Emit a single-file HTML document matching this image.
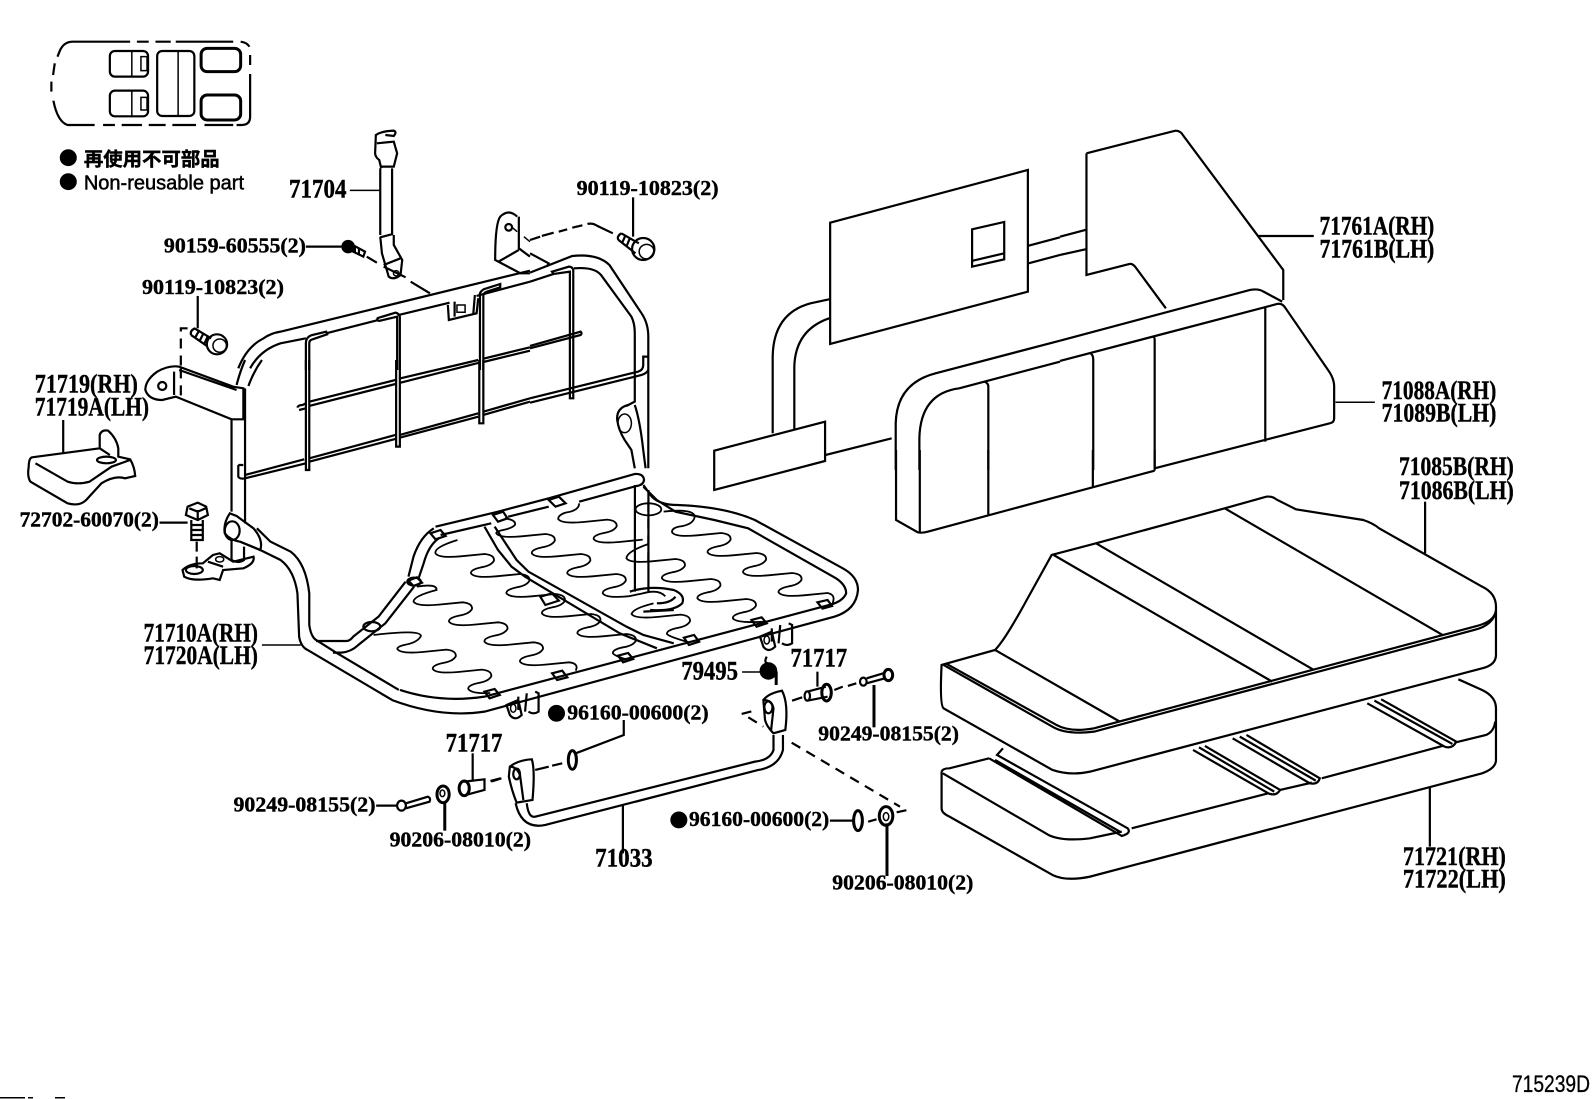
<!DOCTYPE html>
<html><head><meta charset="utf-8"><style>
html,body{margin:0;padding:0;background:#fff}
svg{display:block}
path,ellipse,rect,circle{vector-effect:non-scaling-stroke;fill:none;stroke:#000;stroke-width:1.5}
.f{fill:#000}
.t{stroke-width:2.2}
.sp{stroke-width:1.8}
.d{stroke-dasharray:10 7}
text{font-family:"Liberation Serif","Noto Sans CJK JP",serif;font-weight:bold;fill:#000;stroke:#000;stroke-width:1.2}
.s{font-size:62px}.b{font-size:80px}
</style></head><body>
<svg width="1592" height="1099" viewBox="0 0 1592 1099" xmlns="http://www.w3.org/2000/svg">
<!-- zone 1 -->
<g transform="translate(0,0) scale(.338,.3333)">
<path d="M385 125H215Q190 125 178 150L170 170M162 190L157 225M152 245V275M158 302Q170 365 200 375H280M305 375H340M360 375H420M440 375H490M510 375H580M605 375H690M405 125H440M460 125H505M520 125H690M712 125Q730 127 738 140M740 165V195M740 222V350Q740 375 715 375H700" class="t"/>
<rect x="325" y="153" width="113" height="77" rx="15" class="t"/><path d="M390 153V230"/><rect x="417" y="170" width="18" height="42"/>
<rect x="325" y="272" width="113" height="77" rx="15" class="t"/><path d="M390 272V349"/><rect x="417" y="292" width="18" height="38"/>
<rect x="465" y="153" width="110" height="195" rx="15" class="t"/><path d="M527 153V348"/>
<rect x="595" y="145" width="117" height="70" rx="18" style="stroke-width:3"/>
<rect x="595" y="285" width="117" height="75" rx="18" style="stroke-width:3"/>
<ellipse cx="202" cy="473" rx="23" ry="23" class="f"/><ellipse cx="202" cy="545" rx="23" ry="23" class="f"/>
<text x="248" y="497" font-size="57" textLength="402" lengthAdjust="spacingAndGlyphs" style="font-family:'Noto Sans CJK JP',sans-serif">再使用不可部品</text>
<text x="248" y="568" font-size="60" textLength="474" lengthAdjust="spacingAndGlyphs" style="font-family:'Liberation Sans',sans-serif;font-weight:normal;stroke-width:1.5">Non-reusable part</text>
<text x="855" y="593" class="b" textLength="170" lengthAdjust="spacingAndGlyphs">71704</text>
<path d="M1035 571H1125"/>
<path d="M1125 705V505M1160 705V505M1128 505L1122 480Q1108 470 1110 455L1112 405Q1130 393 1165 392Q1175 395 1165 408L1140 405M1115 430L1165 425L1175 460L1165 500H1128M1125 710L1130 760L1150 830Q1165 842 1185 825L1190 780L1165 735V705M1125 712L1163 702M1135 795L1185 775" class="t"/>
<ellipse cx="1172" cy="820" rx="8" ry="8"/>
<text x="485" y="758" class="s" textLength="420" lengthAdjust="spacingAndGlyphs">90159-60555(2)</text>
<path d="M905 740H1010" class="t"/>
<ellipse cx="1030" cy="740" rx="18" ry="18" class="f"/><path d="M1040 733L1080 755L1075 770L1035 750M1050 738V755M1062 745V762" class="t"/>
<path d="M1085 770L1115 788M1135 800L1200 832M1215 845L1272 880" class="t"/>
<text x="420" y="882" class="s" textLength="420" lengthAdjust="spacingAndGlyphs">90119-10823(2)</text>
<path d="M585 888V985" class="t"/>
<path d="M575 985L625 1015M565 1005L612 1038M578 985Q562 990 565 1005M590 990L578 1012M603 998L592 1020M616 1006L605 1030" class="t"/>
<ellipse cx="642" cy="1033" rx="30" ry="30" class="t"/><ellipse cx="650" cy="1037" rx="20" ry="20"/>
<path d="M555 985H535V1110" class="t d"/>
<path d="M705 1105Q730 1040 780 1015Q800 1000 830 995L1568 812M740 1105Q770 1050 830 1030L905 1015M965 1000L1120 960M1180 945L1330 908M1410 888L1568 845" class="t"/>
<path d="M905 1110V1030Q905 1010 925 1005L965 995L968 1003L925 1018Q915 1020 915 1030V1110" class="t"/>
<path d="M1115 955L1170 938Q1180 940 1183 950V1110M1115 955Q1118 965 1125 962L1175 950V1110" class="t"/>
<path d="M1420 1110V880Q1425 868 1440 865L1480 852V862L1440 875Q1430 878 1430 890V1110" class="t"/>
<path d="M1325 915L1328 960L1410 940L1415 895M1345 905V950M1405 885L1400 945" class="t"/><rect x="1352" y="915" width="24" height="22"/>
<path d="M1530 650Q1505 625 1480 650Q1465 670 1465 780L1540 820H1568M1475 785L1535 750M1535 650V745L1568 770" class="t"/>
<ellipse cx="1505" cy="682" rx="10" ry="10" class="t"/><path d="M1515 682L1530 695M1550 710L1568 725"/>
</g>
<!-- zone 2 -->
<g transform="translate(530,100) scale(.338,.3333)">
<path d="M0 420L30 410M35 408L70 398M85 395L110 388M125 383L155 376M170 372Q185 368 200 378L245 400" class="t"/>
<text x="138" y="285" class="s" textLength="420" lengthAdjust="spacingAndGlyphs">90119-10823(2)</text>
<path d="M305 292V410" class="t"/>
<path d="M270 400L322 430M262 420L312 460M270 400Q255 410 262 420M283 405L272 430M296 413L286 438" class="t"/>
<ellipse cx="335" cy="447" rx="33" ry="33" class="t"/><ellipse cx="345" cy="455" rx="22" ry="22"/>
<path d="M0 460L55 490L50 500M0 518L125 468Q200 460 235 495L330 640Q350 670 350 710V1105M0 545L70 522M130 505Q190 500 210 525L300 650Q310 670 310 700V905L285 918" class="t"/>
<path d="M65 515L115 500Q125 500 128 510V895H118V515L70 522Z" class="t"/>
<path d="M0 738L150 695Q155 700 150 705L0 745M0 895L320 815Q335 810 335 795V770H348M0 908L330 825Q345 820 350 810" class="t"/>
<path d="M888 368L1473 210V575L888 732Z M1308 388L1403 366V478L1308 500Z M1310 482L1403 460" class="t"/>
<path d="M1475 437L1568 412M1475 490L1568 465M885 598L830 610Q720 640 718 770V1000M885 655Q785 690 782 800V990" class="t"/>
<path d="M545 1052L873 965V1083L545 1170Z M875 1065L1070 1015" class="t"/>
<path d="M1082 1110V970Q1085 850 1200 820L1568 722M1152 1110V1015Q1155 880 1270 865L1568 785M1345 845Q1356 850 1356 860V1110" class="t"/>
<path d="M290 915Q255 925 258 960Q262 990 280 1020L300 1050L310 1105M310 915Q325 960 335 1050L342 1105" class="t"/><ellipse cx="280" cy="970" rx="20" ry="28"/>
</g>
<!-- zone 3 -->
<g transform="translate(1060,100) scale(.3393,.3333)">
<path d="M0 410L75 390M0 465L75 448M78 160L340 92Q355 92 362 105L658 510V600M78 160V525L205 492Q215 490 225 505L312 625" class="t"/>
<path d="M0 722L560 570Q585 565 600 575L655 605M0 783L640 612Q655 608 665 625L790 810Q808 835 808 860V955Q808 968 795 970L279 1105M90 760Q98 765 98 780V1110M275 710Q279 712 279 720V1105M605 620V1025" class="t"/>
<path d="M585 408H748" class="t"/><path d="M812 907H928"/>
<text x="765" y="403" class="b" textLength="338" lengthAdjust="spacingAndGlyphs">71761A(RH)</text>
<text x="765" y="472" class="b" textLength="338" lengthAdjust="spacingAndGlyphs">71761B(LH)</text>
<text x="948" y="897" class="b" textLength="338" lengthAdjust="spacingAndGlyphs">71088A(RH)</text>
<text x="948" y="965" class="b" textLength="338" lengthAdjust="spacingAndGlyphs">71089B(LH)</text>
</g>
<!-- zone 4 -->
<g transform="translate(0,360) scale(.338,.3333)">
<text x="103" y="97" class="b" textLength="305" lengthAdjust="spacingAndGlyphs">71719(RH)</text>
<text x="103" y="167" class="b" textLength="338" lengthAdjust="spacingAndGlyphs">71719A(LH)</text>
<path d="M187 180V280" class="t"/>
<path d="M95 292L295 265V225Q300 208 320 212Q345 235 350 265V290L385 298Q398 320 400 348L370 355Q340 345 300 370L255 420Q235 440 200 430L90 365Q80 350 85 320Q85 295 95 292ZM105 310L200 365Q230 375 265 365L330 320L385 300M295 265L325 285" class="t"/>
<ellipse cx="315" cy="300" rx="28" ry="10" class="t"/>
<path d="M690 80L530 20Q500 15 465 35Q430 60 430 90Q440 120 480 120L520 110L685 178H720V85ZM530 30L700 90M515 35V105" class="t"/>
<ellipse cx="480" cy="78" rx="12" ry="12" class="t"/><path d="M535 25V110" class="d t"/>
<path d="M725 85V490M685 180V455M700 75Q710 35 725 0M735 78Q750 35 775 0" class="t"/>
<path d="M705 315H720M705 315V350Q710 358 725 355L905 310M725 345L900 298M915 295L1170 225M915 305L1170 237M1183 225L1415 160M1183 233L1415 170M1430 155L1568 115M1430 165L1568 125M880 143Q882 135 895 135L905 130M885 150L905 145M915 125L1170 60M915 138L1170 72M1185 55L1415 0M1185 68L1418 8M1430 -4L1568 -38M1430 6L1568 -28" class="t"/>
<path d="M905 0V330H915V0M1172 0V260H1183V0M1418 0V190H1430V0" class="t"/>
<path d="M680 460Q660 490 665 520Q680 540 710 545L770 570Q780 540 750 505L700 468Z" class="t"/><ellipse cx="687" cy="512" rx="22" ry="28" class="t"/>
<path d="M685 540V600M722 560V600Q705 612 685 600" class="t"/>
<path d="M540 630Q560 610 600 610L630 585L650 580L690 605L750 590Q755 610 720 625L660 630L650 660L630 655Q570 665 545 650ZM615 605L660 620" class="t"/><ellipse cx="575" cy="630" rx="25" ry="12" class="t"/><ellipse cx="650" cy="598" rx="12" ry="8"/>
<path d="M555 440L585 428L610 440L615 465L585 480L550 465ZM585 450V480M560 445L585 455L608 445" class="t"/>
<path d="M566 480V540H600V480M566 495H600M566 510H600M566 525H600" class="t"/><path d="M582 545V575M582 590V625" class="t"/>
<text x="58" y="500" class="s" textLength="412" lengthAdjust="spacingAndGlyphs">72702-60070(2)</text>
<path d="M472 488H555" class="t"/>
<text x="425" y="845" class="b" textLength="338" lengthAdjust="spacingAndGlyphs">71710A(RH)</text>
<text x="425" y="912" class="b" textLength="338" lengthAdjust="spacingAndGlyphs">71720A(LH)</text>
<path d="M775 855H890"/>
<path d="M760 505L800 545L860 575Q905 610 915 700V795Q920 830 935 840L990 875L1180 990M710 545L770 570L830 600Q870 630 880 700L885 830Q890 860 910 870L1160 1020" class="t"/>
<path d="M935 843H1025Q1035 843 1045 830L1120 770L1200 665M985 878H1010Q1040 875 1060 855L1140 790L1225 680" class="t"/>
<ellipse cx="1100" cy="800" rx="25" ry="14" class="t"/><ellipse cx="1225" cy="665" rx="20" ry="12" class="t"/>
</g>
<!-- zone 5 -->
<g transform="translate(400,470) scale(.338,.3333)">
<path d="M105 170L290 125L440 85L695 12Q720 10 722 30Q720 45 700 48L530 95M320 140L440 110M120 195L270 160" class="t"/>
<path d="M100 175Q60 200 40 260L25 320M115 205Q85 225 70 280L55 325" class="t"/>
<path d="M250 170L290 240L330 290L370 320L650 490L760 535M280 170L345 270L380 305L670 470L720 495L810 520" class="t"/>
<path d="M720 45L745 80Q770 105 820 105Q960 110 1050 150L1310 295Q1355 320 1355 360Q1350 420 1285 440L250 725Q120 745 -24 690M720 50L760 90L815 125L930 150L1030 175L1290 325Q1320 345 1320 370Q1310 395 1270 405L250 680Q120 700 0 660" class="t"/>
<path d="M695 45V365M735 60V365" class="t"/><path d="M735 95V290" class="d t"/>
<path d="M680 365Q740 345 810 360Q845 375 835 400Q810 425 740 420M760 400Q800 400 815 380M720 425L810 420" class="t"/>
<ellipse cx="735" cy="118" rx="38" ry="18" class="sp"/>
<path class="sp" d="M780 125Q870 115 872 140Q868 165 825 170Q803 175 805 187q10 15 75 9l70 -7q30 3 28 20q-8 15 -38 20q-32 7 -30 18q10 15 75 9l70 -7q30 3 28 20q-8 15 -38 20q-32 7 -30 18q10 15 75 9l70 -7q30 3 28 20q-8 15 -38 20q-32 7 -30 18q10 15 75 9l70 -7q25 5 15 30"/>
<path class="sp" d="M530 100Q530 122 490 128Q468 135 468 147q10 15 75 9l70 -7q30 3 28 20q-8 15 -38 20q-32 7 -30 18q10 15 75 9l70 -7"/>
<path class="sp" d="M735 222Q670 245 670 265q10 15 75 9l70 -7q30 3 28 20q-8 15 -38 20q-32 7 -30 18q10 15 75 9l70 -7q30 3 28 20q-8 15 -38 20q-32 7 -30 18q10 15 75 9l70 -7q30 3 28 20q-8 15 -38 20q-32 7 -30 18q10 15 95 10"/>
<path class="sp" d="M310 145Q345 150 340 165Q330 175 305 180Q283 185 285 190q10 15 75 9l70 -7q30 3 28 20q-8 15 -38 20q-32 7 -30 18q10 15 75 9l70 -7q30 3 28 20q-8 15 -38 20q-32 7 -30 18q10 15 75 9l70 -7q30 3 28 20q-8 15 -38 20q-32 7 -30 18q10 15 75 9l40 -8q50 -15 70 8"/>
<path class="sp" d="M750 400Q690 415 685 432q10 15 75 9l70 -7q30 3 28 20q-8 15 -38 20q-32 7 -30 18q5 8 65 25"/>
<path class="sp" d="M170 210Q100 232 105 250q10 15 75 9l70 -7q30 3 28 20q-8 15 -38 20q-32 7 -30 18q10 15 75 9l70 -7q30 3 28 20q-8 15 -38 20q-32 7 -30 18q10 15 75 9l70 -7q30 3 28 20q-8 15 -38 20q-32 7 -30 18q10 15 75 9l70 -7q30 3 28 20q-8 15 -38 20q-32 7 -30 18q10 15 75 9l70 -7q30 3 28 20q-8 15 -38 20q-32 7 -30 18q5 8 40 18"/>
<path class="sp" d="M50 350Q110 340 108 360Q40 378 40 395q10 15 75 9l70 -7q30 3 28 20q-8 15 -38 20q-32 7 -30 18q10 15 75 9l70 -7q30 3 28 20q-8 15 -38 20q-32 7 -30 18q10 15 75 9l70 -7q30 3 28 20q-8 15 -38 20q-32 7 -30 18q10 15 75 9l70 -7q30 3 20 25"/>
<path class="sp" d="M-78 495Q60 478 62 498Q52 518 12 525Q-8 530 -8 537q10 15 75 9l70 -7q30 3 28 20q-8 15 -38 20q-32 7 -30 18q10 15 75 9l70 -7q30 3 28 20q-8 15 -38 20q-32 7 -30 18q10 15 65 12"/>
<path d="M250 665L280 657L295 675L265 685ZM450 610L480 602L495 622L465 630ZM645 557L675 549L690 567L660 577ZM840 503L870 495L885 515L855 525ZM1040 450L1070 442L1085 460L1055 470ZM1235 397L1265 390L1278 408L1250 416ZM90 190L120 180L135 198L105 208ZM275 135L305 125L318 145L290 155ZM440 90L470 80L490 100L460 110ZM25 332L50 322L65 338L40 348ZM415 380L450 370L470 392L430 405Z" class="t"/>
<path d="M315 705L350 690L360 735Q340 755 325 735ZM350 680V720M375 670L370 725M400 665L410 670V725Q395 735 380 725" class="t"/><ellipse cx="335" cy="715" rx="8" ry="12"/>
<path d="M1065 500L1100 485L1110 530Q1090 550 1075 530ZM1100 475V515M1125 465L1120 520M1150 460L1160 465V520Q1145 530 1130 520" class="t"/><ellipse cx="1085" cy="510" rx="8" ry="12"/>
<text x="832" y="628" class="b" textLength="168" lengthAdjust="spacingAndGlyphs">79495</text>
<path d="M1012 606H1068"/>
<ellipse cx="1090" cy="603" rx="24" ry="24" class="f"/><path d="M1085 560Q1075 580 1090 580" class="t"/><path d="M1113 605V645" style="stroke-width:3"/>
<text x="1155" y="590" class="b" textLength="168" lengthAdjust="spacingAndGlyphs">71717</text>
<path d="M1235 605V650" class="t"/>
<path d="M1205 665L1260 650M1205 692L1265 680" class="t"/><ellipse cx="1262" cy="668" rx="14" ry="25" style="stroke-width:3"/><ellipse cx="1205" cy="678" rx="8" ry="14" class="t"/>
<path d="M1160 692L1190 682M1285 660L1310 650M1325 648L1350 640" class="t"/>
<path d="M1075 690Q1090 670 1130 662Q1150 700 1140 780L1105 790Q1085 770 1080 750ZM1075 690Q1100 690 1105 715L1098 780" class="t"/><ellipse cx="1090" cy="712" rx="12" ry="18" class="t"/>
<path d="M1105 795V840Q1095 870 1050 875L400 1040Q380 1045 375 1000M1133 795V840Q1120 890 1060 900L430 1065Q360 1080 342 1000" class="t"/>
<path d="M325 890Q350 870 390 868Q400 900 392 990L345 998Q330 960 322 920ZM325 890Q345 890 355 915L365 990" class="t"/><ellipse cx="345" cy="912" rx="10" ry="16" class="t"/>
<path d="M400 900L440 890M450 887L480 880M270 935L300 925" class="t"/>
<ellipse cx="510" cy="870" rx="12" ry="28" style="stroke-width:3"/>
<path d="M520 850L662 795V750" class="t"/>
<ellipse cx="463" cy="730" rx="23" ry="23" class="f"/>
<text x="495" y="748" class="s" textLength="418" lengthAdjust="spacingAndGlyphs">96160-00600(2)</text>
<text x="135" y="845" class="b" textLength="168" lengthAdjust="spacingAndGlyphs">71717</text>
<path d="M215 850V930" class="t"/>
<ellipse cx="190" cy="955" rx="15" ry="22" style="stroke-width:3"/><path d="M190 935L250 928V960L195 975" class="t"/>
<ellipse cx="825" cy="1050" rx="23" ry="23" class="f"/>
<text x="855" y="1068" class="s" textLength="415" lengthAdjust="spacingAndGlyphs">96160-00600(2)</text>
<path d="M1272 1052H1340" class="t"/>
<ellipse cx="1355" cy="1052" rx="13" ry="30" style="stroke-width:3"/>
<path d="M1385 1055L1410 1048" class="t"/>
<ellipse cx="1438" cy="1038" rx="20" ry="28" style="stroke-width:3"/><ellipse cx="1438" cy="1040" rx="8" ry="12"/>
</g>
<!-- zone 6 -->
<g transform="translate(900,450) scale(.396,.3333)">
<path d="M50 0V245M223 0V195M487 0V110M643 0V62M-10 0V210L45 247Q55 250 70 245L643 62" class="t"/>
<path d="M105 645L240 600Q265 570 320 450L383 315L495 280L820 175L925 140Q940 138 950 148L1000 178L1170 210Q1195 220 1210 235L1470 410Q1505 430 1505 470V615Q1505 645 1470 655L480 965Q430 978 385 960L110 775Q100 765 105 645Z" class="t"/>
<path d="M110 645L385 830Q420 855 490 845L1450 540Q1500 525 1505 480M115 640L395 825Q430 848 490 835L1450 530Q1495 518 1503 490M240 600L555 815M388 315L940 695M495 280L1045 660M820 175L1370 555" class="t"/>
<path d="M1326 155V310" class="t"/>
<text x="1260" y="75" class="b" textLength="290" lengthAdjust="spacingAndGlyphs">71085B(RH)</text>
<text x="1260" y="147" class="b" textLength="290" lengthAdjust="spacingAndGlyphs">71086B(LH)</text>
<text x="1270" y="1245" class="b" textLength="260" lengthAdjust="spacingAndGlyphs">71721(RH)</text>
<text x="1270" y="1312" class="b" textLength="260" lengthAdjust="spacingAndGlyphs">71722(LH)</text>
<path d="M1338 1012V1190" class="t"/>
<path d="M105 965Q108 955 125 955L225 925M105 965V1075Q105 1090 125 1100L385 1275Q420 1295 480 1280L1470 970Q1505 955 1505 930V775Q1505 740 1470 720L1410 688M108 970L375 1155Q410 1175 480 1165L560 1145M585 1135L930 1030M960 1020L1040 998M1065 985L1370 888M1400 878L1480 855Q1500 845 1503 815" class="t"/>
<path d="M260 895L245 915L575 1135Q585 1150 560 1158L225 925M240 930L555 1145M740 900L930 1030Q950 1040 960 1020L770 888M755 892L945 1025M840 865L1035 1000Q1055 1005 1060 985L875 855M858 860L1050 992M1180 760L1375 890Q1395 898 1405 875L1215 748M1198 752L1395 882" class="t"/>
</g>
<!-- zone 7 -->
<g transform="translate(220,640) scale(.338,.3333)">
<text x="40" y="515" class="s" textLength="420" lengthAdjust="spacingAndGlyphs">90249-08155(2)</text>
<path d="M462 497H522" class="t"/>
<ellipse cx="537" cy="497" rx="13" ry="15" class="t"/><path d="M550 490L615 470Q625 475 620 485L550 505" class="t"/>
<ellipse cx="660" cy="463" rx="18" ry="25" style="stroke-width:3"/><ellipse cx="658" cy="460" rx="7" ry="10"/>
<path d="M665 485V572" style="stroke-width:3"/>
<text x="502" y="620" class="s" textLength="418" lengthAdjust="spacingAndGlyphs">90206-08010(2)</text>
<text x="1110" y="680" class="b" textLength="170" lengthAdjust="spacingAndGlyphs">71033</text>
<path d="M1192 497V640" class="t"/>
<path d="M800 423L830 415" class="t"/>
</g>
<!-- zone 8 -->
<g transform="translate(700,620) scale(.3333,.3333)">
<text x="355" y="362" class="s" textLength="422" lengthAdjust="spacingAndGlyphs">90249-08155(2)</text>
<path d="M522 195V322" style="stroke-width:3"/>
<ellipse cx="490" cy="185" rx="10" ry="12" class="t"/><path d="M500 175L550 160M500 190L555 175" class="t"/><ellipse cx="565" cy="165" rx="13" ry="17" style="stroke-width:3"/>
<path d="M561 610V768" style="stroke-width:3"/>
<text x="397" y="808" class="s" textLength="423" lengthAdjust="spacingAndGlyphs">90206-08010(2)</text>
<path d="M125 282L170 270M145 292L190 320M275 368L600 560M590 577L622 570" class="t d"/>
</g>
<text x="1512" y="1092" font-size="24" textLength="78" lengthAdjust="spacingAndGlyphs" style="font-family:'Liberation Sans',sans-serif;font-weight:normal;stroke-width:.3">715239D</text>
<rect x="0" y="1097" width="25" height="1.5" class="f" style="stroke:none"/><rect x="28" y="1097" width="5" height="1.5" class="f" style="stroke:none"/><rect x="55" y="1097" width="10" height="1.5" class="f" style="stroke:none"/>
</svg>
</body></html>
